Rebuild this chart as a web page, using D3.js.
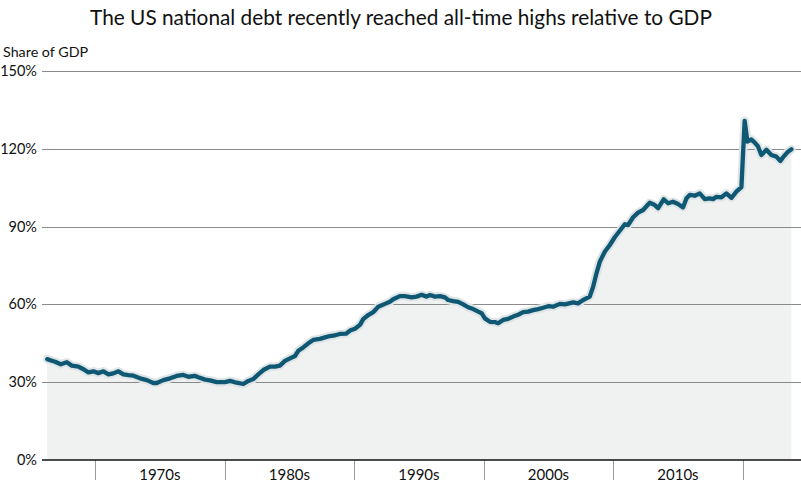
<!DOCTYPE html>
<html>
<head>
<meta charset="utf-8">
<script src="https://cdn.jsdelivr.net/npm/d3@7"></script>
<style>
  body { margin: 0; background: #fff; }
  text { font-family: Lato, "Open Sans", sans-serif; fill: #111; }
</style>
</head>
<body>
<svg id="chart" width="801" height="488"></svg>
<script>
// debt as share of GDP (fractional year, percent)
const years = [
  1966.30, 1966.66, 1966.91, 1967.35, 1967.82, 1968.20, 1968.71, 1969.10, 1969.48, 1969.87,
  1970.25, 1970.64, 1971.03, 1971.41, 1971.80, 1972.18, 1972.57, 1972.96, 1973.47, 1973.99,
  1974.50, 1974.76, 1975.27, 1975.79, 1976.30, 1976.81, 1977.20, 1977.72, 1977.97, 1978.49,
  1978.87, 1979.39, 1980.03, 1980.42, 1980.93, 1981.44, 1981.83, 1982.21, 1982.60, 1982.99,
  1983.50, 1983.89, 1984.27, 1984.66, 1985.05, 1985.43, 1985.69, 1986.07, 1986.46, 1986.84,
  1987.36, 1987.75, 1988.13, 1988.52, 1988.90, 1989.37, 1989.68, 1990.06, 1990.45, 1990.70,
  1991.09, 1991.47, 1991.86, 1992.38, 1992.76, 1993.02, 1993.53, 1993.92, 1994.44, 1994.82,
  1995.21, 1995.59, 1995.85, 1996.23, 1996.62, 1997.01, 1997.26, 1997.65, 1998.03, 1998.42,
  1998.80, 1999.19, 1999.58, 1999.84, 2000.09, 2000.48, 2000.86, 2001.12, 2001.50, 2001.89,
  2002.28, 2002.66, 2003.05, 2003.43, 2003.82, 2004.21, 2004.59, 2004.98, 2005.36, 2005.88,
  2006.27, 2006.91, 2007.29, 2007.68, 2008.19, 2008.45, 2008.71, 2008.97, 2009.35, 2009.74,
  2010.12, 2010.51, 2010.90, 2011.15, 2011.54, 2011.92, 2012.31, 2012.82, 2013.21, 2013.47,
  2013.90, 2014.24, 2014.62, 2015.01, 2015.39, 2015.66, 2015.91, 2016.30, 2016.68, 2017.07,
  2017.45, 2017.71, 2017.97, 2018.36, 2018.74, 2019.13, 2019.51, 2019.90, 2020.15, 2020.36,
  2020.67, 2020.93, 2021.18, 2021.44, 2021.83, 2022.21, 2022.60, 2022.91, 2023.16, 2023.50,
  2023.76
];
const debt = [
  38.9, 38.3, 37.9, 36.9, 37.7, 36.4, 36.0, 35.0, 33.8, 34.2,
  33.5, 34.2, 33.0, 33.4, 34.2, 33.0, 32.7, 32.5, 31.5, 30.8,
  29.7, 29.7, 30.8, 31.5, 32.4, 32.8, 32.1, 32.4, 31.9, 31.0,
  30.7, 30.0, 30.0, 30.5, 29.8, 29.3, 30.5, 31.2, 33.0, 34.7,
  36.0, 36.0, 36.4, 38.2, 39.2, 40.1, 42.1, 43.4, 45.0, 46.3,
  46.7, 47.3, 47.8, 48.1, 48.6, 48.7, 49.9, 50.6, 52.1, 54.3,
  55.9, 57.0, 59.1, 60.2, 61.0, 62.0, 63.2, 63.2, 62.7, 63.0,
  63.7, 63.0, 63.6, 63.0, 63.2, 62.7, 61.7, 61.3, 61.0, 60.0,
  58.9, 58.2, 57.2, 56.6, 54.6, 53.3, 53.2, 52.7, 54.0, 54.4,
  55.3, 56.0, 57.0, 57.2, 57.8, 58.2, 58.7, 59.3, 59.1, 60.2,
  60.0, 60.8, 60.4, 61.7, 63.0, 66.8, 72.0, 76.5, 80.3, 82.9,
  85.9, 88.4, 90.9, 90.6, 93.6, 95.4, 96.4, 99.2, 98.3, 97.1,
  100.5, 99.0, 99.6, 98.7, 97.4, 100.9, 102.2, 101.9, 102.8, 100.6,
  100.9, 100.6, 101.5, 101.3, 102.8, 101.1, 103.5, 105.2, 130.8, 122.8,
  123.6, 122.4, 120.9, 117.6, 119.6, 117.6, 117.0, 115.3, 117.0, 118.9,
  119.8
];
const yTicks = [0, 30, 60, 90, 120, 150];
const decadeTicks = [1970, 1980, 1990, 2000, 2010, 2020];
const decadeLabels = ["1970s", "1980s", "1990s", "2000s", "2010s"];

const data = years.map((yr, i) => ({ year: yr, value: debt[i] }));

const svg = d3.select("#chart");
const x = d3.scaleLinear().domain([1965.9, 2024.5]).range([42, 801]);
const y = d3.scaleLinear().domain([0, 150]).range([460, 71]);

// title
svg.append("text")
    .attr("x", 401)
    .attr("y", 25)
    .attr("text-anchor", "middle")
    .style("font-size", "20.8px")
    .text("The US national debt recently reached all-time highs relative to GDP");

svg.append("text")
    .attr("x", 3)
    .attr("y", 57)
    .style("font-size", "14.3px")
    .text("Share of GDP");

// area under the line
let area = d3.area()
    .x(d => x(d.year))
    .y0(y(0))
    .y1(d => y(d.value));

svg.append("path")
    .datum(data)
    .attr("d", area)
    .attr("fill", "#f0f2f2");

// gridlines + y labels
svg.selectAll(".grid")
    .data(yTicks.filter(t => t > 0))
    .join("line")
    .attr("class", "grid")
    .attr("x1", 42)
    .attr("x2", 801)
    .attr("y1", d => Math.round(y(d)) + 0.5)
    .attr("y2", d => Math.round(y(d)) + 0.5)
    .attr("stroke", "#8a8a8a")
    .attr("stroke-width", 1);

svg.selectAll(".ylab")
    .data(yTicks)
    .join("text")
    .attr("class", "ylab")
    .attr("x", 37)
    .attr("y", d => y(d) + 5)
    .attr("text-anchor", "end")
    .style("font-size", "14.5px")
    .text(d => d + "%");

// line with a soft halo
let line = d3.line()
    .x(d => x(d.year))
    .y(d => y(d.value));

svg.append("path")
    .datum(data)
    .attr("d", line)
    .attr("fill", "none")
    .attr("stroke", "#dfe4e6")
    .attr("stroke-width", 8.5)
    .attr("stroke-linejoin", "round")
    .attr("stroke-linecap", "round");

svg.append("path")
    .datum(data)
    .attr("d", line)
    .attr("fill", "none")
    .attr("stroke", "#0e5873")
    .attr("stroke-width", 4.3)
    .attr("stroke-linejoin", "round")
    .attr("stroke-linecap", "round");

// x axis
svg.selectAll(".xtick")
    .data(decadeTicks)
    .join("line")
    .attr("class", "xtick")
    .attr("x1", d => Math.round(x(d)) + 0.5)
    .attr("x2", d => Math.round(x(d)) + 0.5)
    .attr("y1", 460)
    .attr("y2", 480)
    .attr("stroke", "#9a9a9a")
    .attr("stroke-width", 1);

svg.append("line")
    .attr("x1", 42)
    .attr("x2", 801)
    .attr("y1", y(0))
    .attr("y2", y(0))
    .attr("stroke", "#111")
    .attr("stroke-width", 1.5);

svg.selectAll(".xlab")
    .data(decadeLabels)
    .join("text")
    .attr("class", "xlab")
    .attr("x", (d, i) => (x(decadeTicks[i]) + x(decadeTicks[i + 1])) / 2)
    .attr("y", 480)
    .attr("text-anchor", "middle")
    .style("font-size", "15px")
    .text(d => d);
</script>
</body>
</html>
